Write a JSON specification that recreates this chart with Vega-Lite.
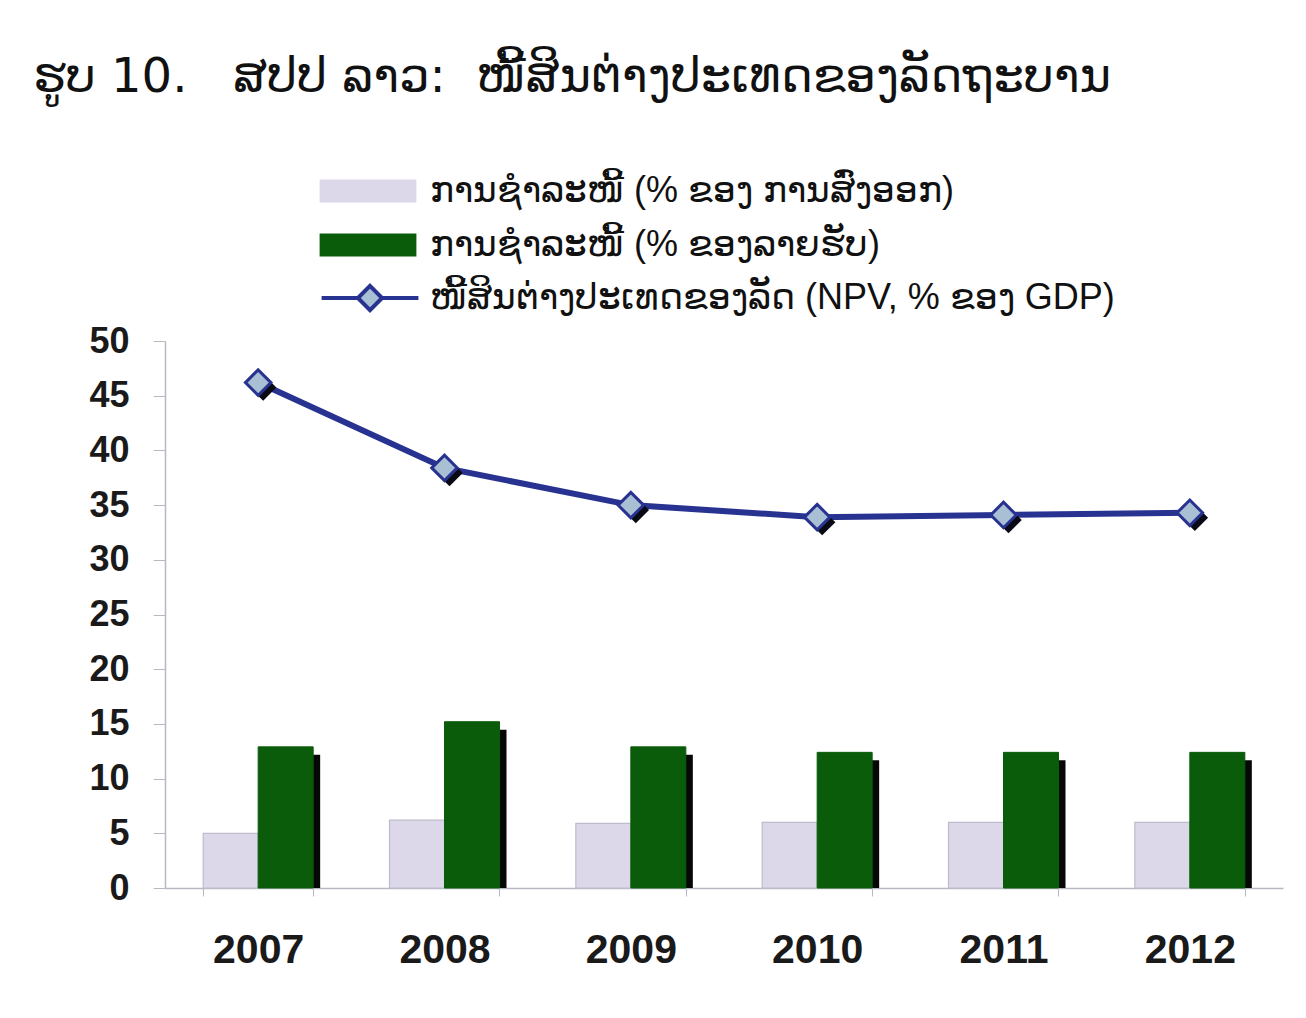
{
  "$schema": "https://vega.github.io/schema/vega-lite/v6.json",
  "width": 1118,
  "height": 547,
  "autosize": "none",
  "padding": {"left": 165, "top": 341, "right": 23, "bottom": 130},
  "background": "white",
  "title": {
    "text": "ຮູບ 10.\u00a0\u00a0 ສປປ ລາວ:\u00a0 ໜີ້ສິນຕ່າງປະເທດຂອງລັດຖະບານ",
    "anchor": "start",
    "frame": "group",
    "dx": -132,
    "offset": 67,
    "font": "DejaVu Sans",
    "fontSize": 48,
    "fontWeight": "normal",
    "color": "#111111"
  },
  "config": {
    "view": {"stroke": null},
    "axis": {"grid": false, "title": null}
  },
  "datasets": {
    "bars": [
      {"year": "2007", "series": "ການຊຳລະໜີ້ (% ຂອງ ການສົ່ງອອກ)", "value": 5.0},
      {"year": "2008", "series": "ການຊຳລະໜີ້ (% ຂອງ ການສົ່ງອອກ)", "value": 6.2},
      {"year": "2009", "series": "ການຊຳລະໜີ້ (% ຂອງ ການສົ່ງອອກ)", "value": 5.9},
      {"year": "2010", "series": "ການຊຳລະໜີ້ (% ຂອງ ການສົ່ງອອກ)", "value": 6.0},
      {"year": "2011", "series": "ການຊຳລະໜີ້ (% ຂອງ ການສົ່ງອອກ)", "value": 6.0},
      {"year": "2012", "series": "ການຊຳລະໜີ້ (% ຂອງ ການສົ່ງອອກ)", "value": 6.0},
      {"year": "2007", "series": "ການຊຳລະໜີ້ (% ຂອງລາຍຮັບ)", "value": 12.9},
      {"year": "2008", "series": "ການຊຳລະໜີ້ (% ຂອງລາຍຮັບ)", "value": 15.2},
      {"year": "2009", "series": "ການຊຳລະໜີ້ (% ຂອງລາຍຮັບ)", "value": 12.9},
      {"year": "2010", "series": "ການຊຳລະໜີ້ (% ຂອງລາຍຮັບ)", "value": 12.4},
      {"year": "2011", "series": "ການຊຳລະໜີ້ (% ຂອງລາຍຮັບ)", "value": 12.4},
      {"year": "2012", "series": "ການຊຳລະໜີ້ (% ຂອງລາຍຮັບ)", "value": 12.4}
    ],
    "line": [
      {"year": "2007", "series": "ໜີ້ສິນຕ່າງປະເທດຂອງລັດ (NPV, % ຂອງ GDP)", "value": 46.2},
      {"year": "2008", "series": "ໜີ້ສິນຕ່າງປະເທດຂອງລັດ (NPV, % ຂອງ GDP)", "value": 38.4},
      {"year": "2009", "series": "ໜີ້ສິນຕ່າງປະເທດຂອງລັດ (NPV, % ຂອງ GDP)", "value": 35.0},
      {"year": "2010", "series": "ໜີ້ສິນຕ່າງປະເທດຂອງລັດ (NPV, % ຂອງ GDP)", "value": 33.9},
      {"year": "2011", "series": "ໜີ້ສິນຕ່າງປະເທດຂອງລັດ (NPV, % ຂອງ GDP)", "value": 34.1},
      {"year": "2012", "series": "ໜີ້ສິນຕ່າງປະເທດຂອງລັດ (NPV, % ຂອງ GDP)", "value": 34.3}
    ]
  },
  "encoding": {
    "x": {
      "field": "year",
      "type": "nominal",
      "scale": {"paddingInner": 0.41, "paddingOuter": 0.205},
      "axis": {
        "labelAngle": 0,
        "labelFont": "Liberation Sans",
        "labelFontWeight": "bold",
        "labelFontSize": 41,
        "labelColor": "#1a1a1a",
        "labelPadding": 34,
        "tickBand": "extent",
        "tickSize": 8,
        "tickColor": "#b8b8c4",
        "domainColor": "#b8b8c4",
        "domainWidth": 1.5
      }
    },
    "y": {
      "field": "value",
      "type": "quantitative",
      "scale": {"domain": [0, 50], "nice": false},
      "axis": {
        "values": [0, 5, 10, 15, 20, 25, 30, 35, 40, 45, 50],
        "labelFont": "Liberation Sans",
        "labelFontWeight": "bold",
        "labelFontSize": 36,
        "labelColor": "#1a1a1a",
        "labelPadding": 24,
        "tickSize": 12,
        "tickColor": "#b8b8c4",
        "domainColor": "#b8b8c4",
        "domainWidth": 1.5
      }
    }
  },
  "layer": [
    {
      "data": {"name": "bars"},
      "transform": [{"filter": "datum.series == 'ການຊຳລະໜີ້ (% ຂອງ ການສົ່ງອອກ)'"}],
      "mark": {"type": "bar", "width": 55, "xOffset": -27.5, "stroke": "#bcbccc", "strokeWidth": 1.2},
      "encoding": {
        "fill": {
          "field": "series",
          "type": "nominal",
          "scale": {
            "domain": ["ການຊຳລະໜີ້ (% ຂອງ ການສົ່ງອອກ)", "ການຊຳລະໜີ້ (% ຂອງລາຍຮັບ)"],
            "range": ["#dcd8ea", "#0a5c0a"]
          },
          "legend": {
            "title": null,
            "orient": "none",
            "legendX": 181,
            "legendY": -172,
            "direction": "vertical",
            "symbolType": "M-2.2,-0.52H2.2V0.52H-2.2Z",
            "symbolSize": 1936,
            "symbolStrokeWidth": 0,
            "labelOffset": 40,
            "rowPadding": 14,
            "labelFont": "Liberation Sans",
            "labelFontSize": 36,
            "labelColor": "#111111",
            "labelLimit": 1000
          }
        }
      }
    },
    {
      "data": {"name": "bars"},
      "transform": [{"filter": "datum.series == 'ການຊຳລະໜີ້ (% ຂອງລາຍຮັບ)'"}],
      "mark": {"type": "bar", "width": 55, "color": "#050805", "xOffset": 34.5, "yOffset": 8, "clip": true}
    },
    {
      "data": {"name": "bars"},
      "transform": [{"filter": "datum.series == 'ການຊຳລະໜີ້ (% ຂອງລາຍຮັບ)'"}],
      "mark": {"type": "bar", "width": 55, "xOffset": 27.5, "stroke": "#0a5c0a", "strokeWidth": 1},
      "encoding": {
        "fill": {"field": "series", "type": "nominal"}
      }
    },
    {
      "data": {"name": "line"},
      "mark": {"type": "line", "strokeWidth": 6, "color": "#283290"}
    },
    {
      "data": {"name": "line"},
      "mark": {"type": "point", "shape": "diamond", "filled": true, "size": 700, "color": "#0a0a14", "opacity": 1, "xOffset": 5, "yOffset": 5}
    },
    {
      "data": {"name": "line"},
      "mark": {"type": "point", "shape": "diamond", "filled": true, "size": 650, "fill": "#a9bfd4", "strokeWidth": 3, "opacity": 1},
      "encoding": {
        "stroke": {
          "field": "series",
          "type": "nominal",
          "scale": {"range": ["#283290"]},
          "legend": {
            "title": null,
            "orient": "none",
            "legendX": 181,
            "legendY": -67,
            "symbolType": "M-2.2,0H-0.55M0.55,0H2.2M0,-0.55L0.55,0L0,0.55L-0.55,0Z",
            "symbolSize": 1936,
            "symbolFillColor": "#a9bfd4",
            "symbolStrokeWidth": 4,
            "labelOffset": 36,
            "labelFont": "Liberation Sans",
            "labelFontSize": 36,
            "labelColor": "#111111",
            "labelLimit": 1000
          }
        }
      }
    }
  ]
}
